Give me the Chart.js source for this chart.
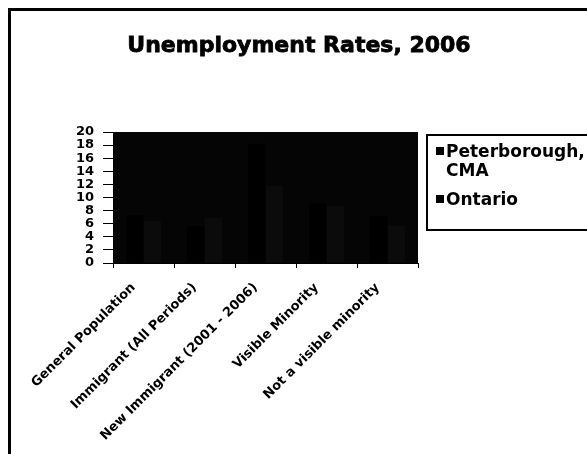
<!DOCTYPE html>
<html>
<head>
<meta charset="utf-8">
<script src="https://cdn.jsdelivr.net/npm/chart.js@4.4.1/dist/chart.umd.min.js"></script>
<style>
  html, body { margin: 0; padding: 0; background: #fff; width: 587px; height: 454px; overflow: hidden; }
  #wrap { position: relative; width: 587px; height: 454px; overflow: hidden; }
  #frame { position: absolute; left: 8px; top: 8px; width: 620px; height: 480px; border: 3px solid #000; box-sizing: border-box; }
  #chart { position: absolute; left: 0; top: 0; }
  #legend { position: absolute; left: 426px; top: 134px; width: 200px; height: 97px; border: 2px solid #000; box-sizing: border-box; }
  .lg { position: absolute; font: bold 17px "DejaVu Sans", sans-serif; color: #000; line-height: 17px; white-space: nowrap; }
  .sw { position: absolute; width: 8px; height: 8px; background: #000; }
</style>
</head>
<body>
<div id="wrap">
  <div id="frame"></div>
  <canvas id="chart" width="587" height="454"></canvas>
  <div id="legend"></div>
  <div class="sw" style="left:436px;top:147px"></div>
  <div class="lg" id="lg1a" style="left:446px;top:143px"></div>
  <div class="lg" id="lg1b" style="left:446px;top:162px"></div>
  <div class="sw" style="left:436px;top:195px"></div>
  <div class="lg" id="lg2" style="left:446px;top:191px"></div>
</div>
<script>
// Unemployment rates (%) by population group, 2006
const categories = [
  'General Population',
  'Immigrant (All Periods)',
  'New Immigrant (2001 - 2006)',
  'Visible Minority',
  'Not a visible minority'
];
const peterborough = [7.3, 5.6, 18.2, 9.1, 7.2];
const ontario = [6.4, 6.9, 11.8, 8.7, 5.7];
const seriesNames = ['Peterborough, CMA', 'Ontario'];
const chartTitle = 'Unemployment Rates, 2006';
const yMin = 0, yMax = 20, yStep = 2;

// legend text (first entry wraps after the comma)
document.getElementById('lg1a').textContent = seriesNames[0].split(' ')[0];
document.getElementById('lg1b').textContent = seriesNames[0].split(' ')[1];
document.getElementById('lg2').textContent = seriesNames[1];

const FONT = '"DejaVu Sans", sans-serif';

// dark plot area behind the bars
const plotBackground = {
  id: 'plotBackground',
  beforeDraw(chart) {
    const { ctx, chartArea: a } = chart;
    ctx.save();
    ctx.fillStyle = '#050505';
    ctx.fillRect(a.left, a.top, a.right - a.left, a.bottom - a.top);
    ctx.restore();
  }
};

// chart heading
const heading = {
  id: 'heading',
  afterDraw(chart) {
    const ctx = chart.ctx;
    ctx.save();
    ctx.font = 'bold 22px ' + FONT;
    ctx.fillStyle = '#000';
    ctx.strokeStyle = '#000';
    ctx.lineWidth = 0.8;
    ctx.textAlign = 'center';
    ctx.textBaseline = 'alphabetic';
    ctx.fillText(chartTitle, 299, 52);
    ctx.strokeText(chartTitle, 299, 52);
    ctx.restore();
  }
};

new Chart(document.getElementById('chart'), {
  type: 'bar',
  data: {
    labels: categories,
    datasets: [
      { label: seriesNames[0], data: peterborough, backgroundColor: '#000000', borderWidth: 0 },
      { label: seriesNames[1], data: ontario, backgroundColor: '#0b0b0b', borderWidth: 0 }
    ]
  },
  options: {
    responsive: false,
    animation: false,
    devicePixelRatio: 1,
    layout: { padding: { top: 132, right: 169, bottom: 0, left: 0 } },
    datasets: { bar: { categoryPercentage: 0.571, barPercentage: 1.0 } },
    plugins: {
      legend: { display: false },
      title: { display: false },
      tooltip: { enabled: false }
    },
    scales: {
      x: {
        afterFit(s) { s.height = 191; },
        grid: { offset: true, drawOnChartArea: false, tickLength: 5, color: '#000', lineWidth: 1 },
        border: { color: '#000', width: 1 },
        ticks: {
          autoSkip: false, minRotation: 45, maxRotation: 45, padding: 12, labelOffset: -10,
          color: '#000', font: { family: FONT, weight: 'bold', size: 13 }
        }
      },
      y: {
        min: yMin, max: yMax,
        afterFit(s) { s.width = 113; },
        grid: { drawOnChartArea: false, tickLength: 10, color: '#000', lineWidth: 1 },
        border: { color: '#000', width: 1 },
        ticks: {
          stepSize: yStep, autoSkip: false, padding: 9, color: '#000',
          font: { family: FONT, weight: 'bold', size: 13 }
        }
      }
    }
  },
  plugins: [plotBackground, heading]
});
</script>
</body>
</html>
